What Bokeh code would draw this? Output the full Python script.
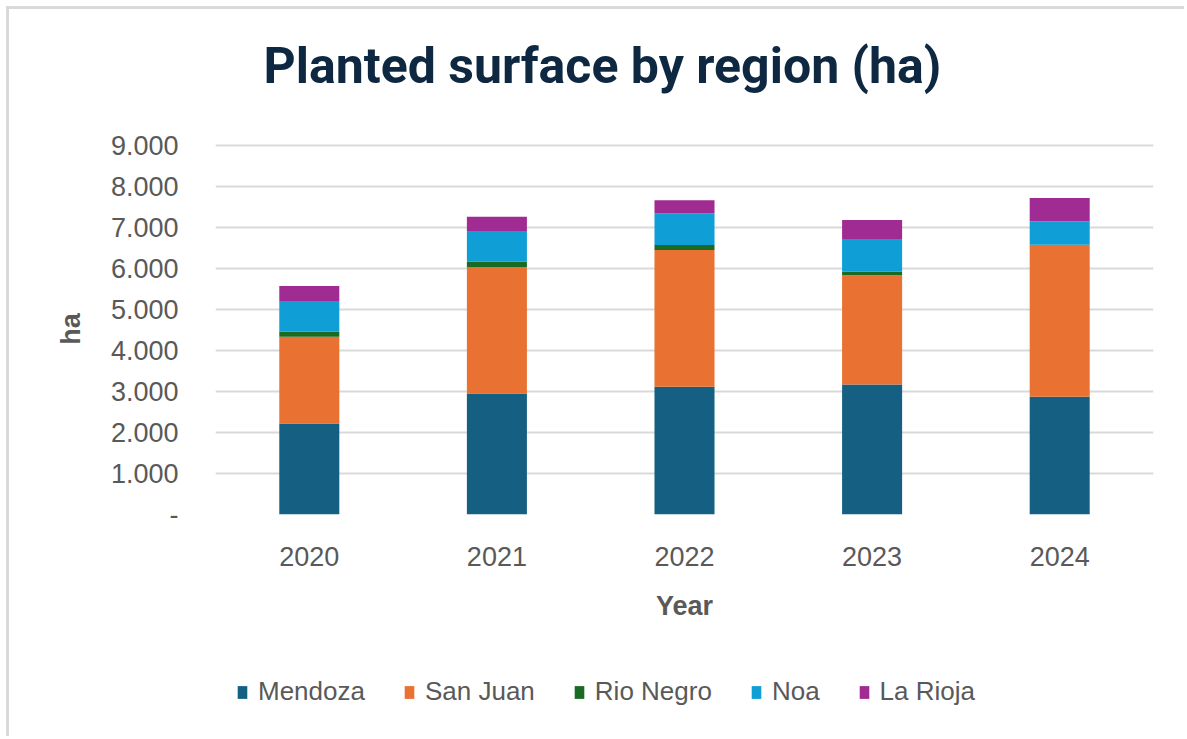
from bokeh.plotting import figure
from bokeh.layouts import column
from bokeh.models import (FactorRange, Range1d, CustomJSTickFormatter, FixedTicker,
                          Legend, LegendItem, Title)
from bokeh.embed import file_html
from bokeh.resources import INLINE

years = ["2020", "2021", "2022", "2023", "2024"]
mendoza = [2220, 2950, 3110, 3170, 2870]
san_juan = [2110, 3080, 3335, 2660, 3700]
rio_negro = [120, 130, 120, 90, 0]
noa = [735, 730, 775, 775, 570]
la_rioja = [385, 365, 320, 480, 570]
series_names = ["Mendoza", "San Juan", "Rio Negro", "Noa", "La Rioja"]
colors = ["#156082", "#E97132", "#196B24", "#0F9ED5", "#A02B93"]
y_ticks = [0, 1000, 2000, 3000, 4000, 5000, 6000, 7000, 8000, 9000]

source = {"year": years, "Mendoza": mendoza, "San Juan": san_juan,
          "Rio Negro": rio_negro, "Noa": noa, "La Rioja": la_rioja}

p = figure(x_range=FactorRange(*years, range_padding=0), y_range=Range1d(0, 9040),
           frame_width=938, frame_height=371, output_backend="svg",
           toolbar_location=None, title=None,
           min_border_left=215, min_border_right=31, min_border_top=143,
           min_border_bottom=130)
p.border_fill_alpha = 0
p.background_fill_color = "white"
p.styles = {"box-shadow": "inset 6px 6px 0 0 #ffffff, inset 9px 9px 0 0 #d9d9d9"}
p.outline_line_color = None

rs = p.vbar_stack(series_names, x="year", width=0.32, source=source, color=colors,
                  line_width=0)

# title (spacer nearest to frame, then the real title)
p.add_layout(Title(text=" ", text_font_size="1px", standoff=46), "above")
title = Title(text="Planted surface by region (ha)", text_font="Roboto",
              text_font_style="bold", text_font_size="50px", text_color="#0E2841",
              align="left", offset=48, standoff=0)
p.add_layout(title, "above")

# axes
tick_font = "Liberation Sans"
for ax in (p.xaxis[0], p.yaxis[0]):
    ax.axis_line_color = None
    ax.major_tick_line_color = None
    ax.minor_tick_line_color = None
    ax.major_label_text_font = tick_font
    ax.major_label_text_font_size = "27px"
    ax.major_label_text_color = "#595959"
    ax.axis_label_text_font = tick_font
    ax.axis_label_text_font_size = "27px"
    ax.axis_label_text_font_style = "bold"
    ax.axis_label_text_color = "#595959"

p.yaxis.ticker = FixedTicker(ticks=y_ticks)
p.yaxis.formatter = CustomJSTickFormatter(code=r"""
if (tick == 0) { return '-'; }
return tick.toString().replace(/\B(?=(\d{3})+(?!\d))/g, '.');
""")
p.yaxis.major_label_standoff = 31
p.yaxis.axis_label = "ha"
p.yaxis.axis_label_standoff = 22
p.xaxis.major_label_standoff = 26
p.xaxis.axis_label = "Year"
p.xaxis.axis_label_standoff = 22

p.xgrid.grid_line_color = None
p.ygrid.grid_line_color = "#D9D9D9"
p.ygrid.grid_line_width = 2
p.ygrid.ticker = FixedTicker(ticks=y_ticks)

# legend strip below the chart (its frame aligns with the chart frame)
pl = figure(width=1184, height=92, x_range=FactorRange(*years, range_padding=0),
            y_range=Range1d(0, 9040), output_backend="svg", toolbar_location=None,
            title=None, x_axis_location=None, y_axis_location=None, min_border=0)
pl.grid.visible = False
pl.outline_line_color = None
pl.border_fill_alpha = 0
pl.background_fill_alpha = 0
pl.styles = {"box-shadow": "inset 6px 0 0 0 #ffffff, inset 9px 0 0 0 #d9d9d9"}

proxies = pl.vbar_stack(series_names, x="year", width=0.32, source=source,
                        color=colors, line_width=0, visible=False)
items = [LegendItem(label=n, renderers=[r]) for n, r in zip(series_names, proxies)]

legend = Legend(items=items, orientation="horizontal", location=(21, 29),
                border_line_color=None, background_fill_alpha=0,
                inactive_fill_alpha=0,
                label_text_font=tick_font, label_text_font_size="26px",
                label_text_color="#595959", glyph_width=12, glyph_height=16,
                spacing=38, label_standoff=10, padding=0, margin=0)
pl.add_layout(legend, "center")

layout = column(p, pl, spacing=0)
open("out.html", "w").write(file_html(layout, INLINE))
